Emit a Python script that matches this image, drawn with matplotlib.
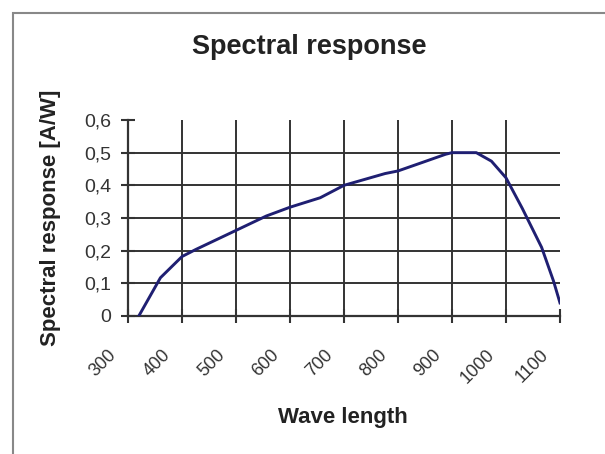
import matplotlib.pyplot as plt
from matplotlib.patches import Rectangle
from matplotlib.transforms import ScaledTranslation

# spectral response curve
wavelength = [320, 360, 400, 426, 500, 556, 600, 656, 700, 776, 800, 845,
              888, 900, 945, 973, 1000, 1030, 1066, 1088, 1100]
response = [0.0, 0.117, 0.182, 0.204, 0.262, 0.306, 0.333, 0.362, 0.40, 0.436,
            0.444, 0.47, 0.495, 0.50, 0.50, 0.474, 0.423, 0.33, 0.21, 0.107, 0.04]

x_ticks = [300, 400, 500, 600, 700, 800, 900, 1000, 1100]
y_ticks = [0, 0.1, 0.2, 0.3, 0.4, 0.5, 0.6]
y_labels = ["0", "0,1", "0,2", "0,3", "0,4", "0,5", "0,6"]

plt.rcParams['font.family'] = ['Liberation Sans', 'DejaVu Sans']
ink = '#222222'

fig = plt.figure(figsize=(6.05, 4.54), dpi=100)
fig.patches.append(Rectangle((13 / 605, -0.1), 1.2, 1.1 - 13 / 454,
                             transform=fig.transFigure, fill=False,
                             edgecolor='#888888', linewidth=1.5))

ax = fig.add_axes([0.2116, 0.304, 0.714, 0.4317])
ax.set_xlim(x_ticks[0], x_ticks[-1])
ax.set_ylim(y_ticks[0], y_ticks[-1])

# grid only inside, no lines on the top or right edge
ax.hlines(y_ticks[1:-1], x_ticks[0], x_ticks[-1], color='#333333', linewidth=1.4, zorder=1)
ax.vlines(x_ticks[1:-1], y_ticks[0], y_ticks[-1], color='#333333', linewidth=1.4, zorder=1)

ax.plot(wavelength, response, color='#1f1f72', linewidth=2.1, zorder=3)

for side in ('top', 'right'):
    ax.spines[side].set_visible(False)
for side in ('left', 'bottom'):
    ax.spines[side].set_linewidth(1.6)
    ax.spines[side].set_color('#333333')

ax.set_yticks(y_ticks)
ax.set_yticklabels(y_labels, fontsize=14, color='#333333')
ax.set_xticks(x_ticks)
ax.set_xticklabels([str(v) for v in x_ticks], fontsize=13, color='#333333',
                   rotation=45, ha='right', va='top', rotation_mode='anchor')
ax.tick_params(axis='both', direction='inout', length=10, width=1.5, color='#333333')
ax.tick_params(axis='y', pad=7)
ax.tick_params(axis='x', pad=17)

# slide the slanted labels left so they end just before their tick
shift = ScaledTranslation(-20 / 100, 0, fig.dpi_scale_trans)
for label in ax.get_xticklabels():
    label.set_transform(label.get_transform() + shift)

ax.set_ylabel('Spectral response [A/W]', fontsize=16, fontweight='bold', color=ink)
ax.yaxis.label.set_va('center')
ax.yaxis.set_label_coords(-0.18, 0.5)
ax.set_xlabel('Wave length', fontsize=16, fontweight='bold', color=ink)
ax.xaxis.label.set_va('center')
ax.xaxis.set_label_coords(0.498, -0.52)
fig.text(309 / 605, 1 - 47 / 454, 'Spectral response', fontsize=19.5, fontweight='bold',
         color=ink, ha='center', va='center')

fig.savefig('out.png', dpi=100)
